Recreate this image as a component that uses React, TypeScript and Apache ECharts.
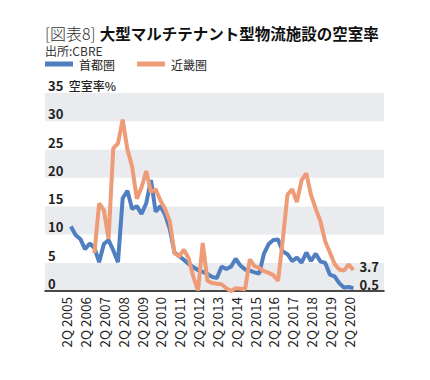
import React, { useEffect, useRef } from "react";
import * as echarts from "echarts";

// Quarter categories: 2Q 2004 ... 1Q 2022 (axis span)
const startYear = 2004;
const quarterCount = 72;
const categories: string[] = Array.from({ length: quarterCount }, (_, i) => {
  const q = ((i + 1) % 4) + 1;
  const y = startYear + Math.floor((i + 1) / 4);
  return `${q}Q ${y}`;
});

// 首都圏: 3Q 2005 ... 3Q 2020
const tokyoStart = "3Q 2005";
const tokyoValues = [
  11.4, 9.9, 9.2, 7.4, 8.4, 7.6, 5.1, 8.3, 9.0, 7.2,
  5.1, 16.4, 17.7, 14.5, 15.0, 13.6, 15.5, 19.6, 14.0, 15.0,
  13.5, 11.0, 6.8, 6.2, 5.5, 4.8, 4.2, 3.7, 3.4, 3.0,
  2.5, 2.3, 4.3, 3.9, 4.3, 5.7, 4.5, 3.8, 3.6, 3.3,
  3.1, 6.6, 8.3, 9.0, 9.1, 7.0, 6.5, 5.3, 5.9, 5.0,
  6.8, 5.3, 6.6, 5.2, 5.0, 2.9, 2.6, 1.4, 0.6, 0.7,
  0.5,
];

// 近畿圏: 4Q 2006 ... 3Q 2020
const kinkiStart = "4Q 2006";
const kinkiValues = [
  6.7, 15.5, 14.3, 9.2, 25.2, 26.1, 30.3, 25.0, 22.0, 16.3,
  18.3, 21.2, 17.5, 18.0, 16.0, 14.5, 12.3, 6.7, 6.1, 7.3,
  5.8, 2.5, 0.1, 8.5, 1.8, 1.4, 1.3, 1.2, 0.5, 0.0,
  0.5, 0.4, 0.3, 5.6, 4.4, 4.1, 3.5, 3.2, 2.8, 1.8,
  9.0, 17.0, 18.0, 15.7, 19.6, 20.8, 17.0, 14.5, 12.3, 8.8,
  6.8, 4.8, 3.8, 3.6, 4.7, 3.7,
];

const yTicks = [0, 5, 10, 15, 20, 25, 30, 35];
const seriesNames = ["首都圏", "近畿圏"];
const firstLabel = "2Q 2005";
const lastLabel = "2Q 2020";

function pad(start: string, values: number[]): (number | null)[] {
  const s = categories.indexOf(start);
  return categories.map((_, i) =>
    i >= s && i - s < values.length ? values[i - s] : null
  );
}

const FONT = "'Noto Sans CJK JP', 'Noto Sans', sans-serif";

export default function App() {
  const ref = useRef<HTMLDivElement>(null);
  useEffect(() => {
    if (!ref.current) return;
    document.body.style.margin = "0";
    const chart = echarts.init(ref.current, null, { renderer: "svg" });
    const fi = categories.indexOf(firstLabel);
    const li = categories.indexOf(lastLabel);
    chart.setOption({
      animation: false,
      backgroundColor: "#ffffff",
      textStyle: { fontFamily: FONT },
      title: [
        {
          text: "{a|[図表8]} {b|大型マルチテナント型物流施設の空室率}",
          left: 45,
          top: 25,
          padding: 0,
          textStyle: {
            lineHeight: 16,
            rich: {
              a: { fontFamily: FONT, fontSize: 16, lineHeight: 16, fontWeight: 300, color: "#333" },
              b: { fontFamily: FONT, fontSize: 15.5, lineHeight: 16, fontWeight: "bold", color: "#111" },
            },
          },
        },
        {
          text: "出所:CBRE",
          left: 45,
          top: 44,
          padding: 0,
          textStyle: { fontFamily: FONT, fontSize: 12, lineHeight: 12, fontWeight: "normal", color: "#333" },
        },
      ],
      legend: {
        data: seriesNames,
        left: 45,
        top: 58,
        padding: 0,
        icon: "rect",
        itemWidth: 28,
        itemHeight: 5,
        itemGap: 22,
        textStyle: { fontFamily: FONT, fontSize: 12, color: "#222", padding: [0, 0, 0, 1] },
      },
      grid: { left: 45, right: 46, top: 93, bottom: 89, containLabel: false },
      xAxis: {
        type: "category",
        data: categories,
        boundaryGap: true,
        axisLine: { show: true, lineStyle: { color: "#111", width: 1.5 } },
        axisTick: { show: false },
        splitLine: { show: false },
        axisLabel: {
          interval: (idx: number) => idx >= fi && idx <= li && (idx - fi) % 4 === 0,
          rotate: 90,
          fontFamily: FONT,
          fontSize: 13.5,
          color: "#222",
          margin: 6,
        },
      },
      yAxis: {
        type: "value",
        min: 0,
        max: 35,
        interval: 5,
        axisLine: { show: false },
        axisTick: { show: false },
        splitLine: { show: false },
        splitArea: { show: true, areaStyle: { color: ["#e9ebee", "#ffffff"] } },
        axisLabel: {
          inside: true,
          margin: 3,
          verticalAlign: "bottom",
          padding: [0, 0, 1, 0],
          formatter: (v: number) =>
            v === yTicks[yTicks.length - 1] ? `{n|${v}}  {u|空室率%}` : `{n|${v}}`,
          rich: {
            n: { fontFamily: FONT, fontSize: 13, fontWeight: "bold", color: "#222" },
            u: { fontFamily: FONT, fontSize: 12, fontWeight: 500, color: "#222" },
          },
        },
      },
      series: [
        {
          name: seriesNames[0],
          type: "line",
          data: pad(tokyoStart, tokyoValues),
          symbol: "none",
          color: "#4f7fc0",
          lineStyle: { width: 4, color: "#4f7fc0" },
          endLabel: {
            show: true,
            formatter: tokyoValues[tokyoValues.length - 1].toFixed(1),
            fontFamily: FONT,
            fontSize: 13,
            fontWeight: "bold",
            color: "#222",
            distance: 6,
            offset: [0, -4],
          },
        },
        {
          name: seriesNames[1],
          type: "line",
          data: pad(kinkiStart, kinkiValues),
          symbol: "none",
          color: "#ee9b78",
          lineStyle: { width: 4, color: "#ee9b78" },
          endLabel: {
            show: true,
            formatter: kinkiValues[kinkiValues.length - 1].toFixed(1),
            fontFamily: FONT,
            fontSize: 13,
            fontWeight: "bold",
            color: "#222",
            distance: 6,
            offset: [0, -4],
          },
        },
      ],
    });
    return () => chart.dispose();
  }, []);
  return <div ref={ref} style={{ width: 430, height: 380 }} />;
}
